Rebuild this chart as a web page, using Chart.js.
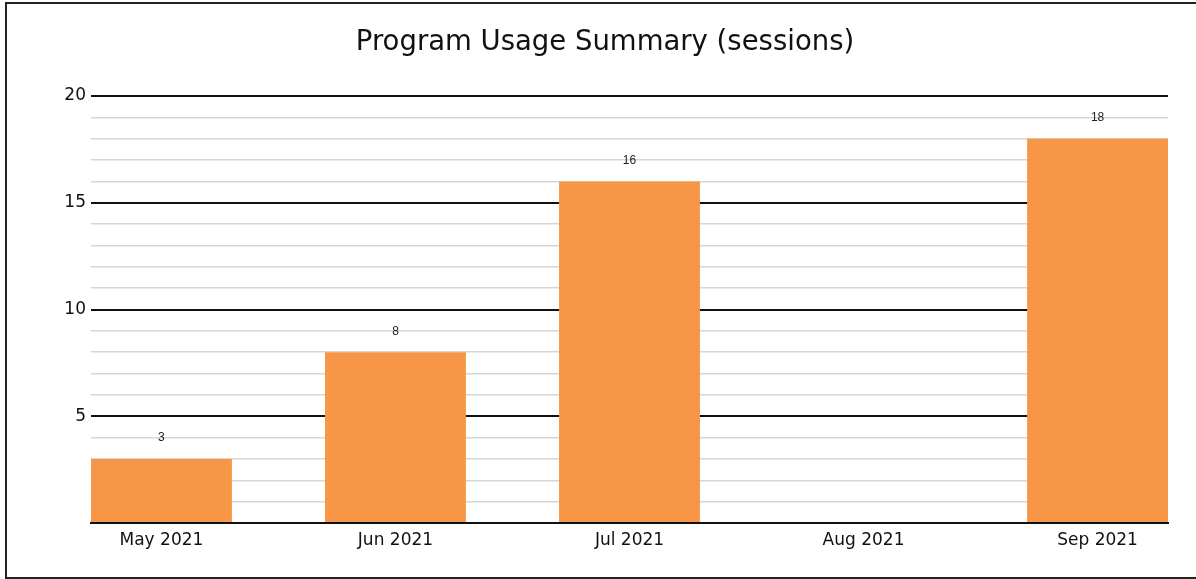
<!DOCTYPE html>
<html>
<head>
<meta charset="utf-8">
<script src="https://cdn.jsdelivr.net/npm/chart.js@4"></script>
<style>
  html, body { margin: 0; padding: 0; background: #fff; overflow: hidden; width: 1196px; height: 579px; }
  #frame { position: absolute; left: 5px; top: 2px; width: 1189px; height: 573px; border: 2px solid #222; border-right: none; }
  #wrap { position: absolute; left: 0; top: 0; width: 1196px; height: 579px; }
</style>
</head>
<body>
<div id="frame"></div>
<div id="wrap"><canvas id="c" width="1196" height="579"></canvas></div>
<script>
const categories = ["May 2021", "Jun 2021", "Jul 2021", "Aug 2021", "Sep 2021"];
const sessions = [3, 8, 16, 0, 18];
const yTickLabels = ["5", "10", "15", "20"];
const titleText = "Program Usage Summary (sessions)";

const FONT = "'DejaVu Sans', Verdana, sans-serif";
const halfBar = 0.301;

const valueLabels = {
  id: 'valueLabels',
  afterDatasetsDraw(chart) {
    const ctx = chart.ctx;
    const meta = chart.getDatasetMeta(0);
    ctx.save();
    ctx.font = "12px 'Liberation Sans', Arial, sans-serif";
    ctx.fillStyle = '#222';
    ctx.textAlign = 'center';
    ctx.textBaseline = 'middle';
    meta.data.forEach((el, i) => {
      const v = sessions[i];
      if (!v) return;
      ctx.fillText(String(v), el.x, el.y - 21);
    });
    ctx.restore();
  }
};

const titleDraw = {
  id: 'titleDraw',
  afterDraw(chart) {
    const ctx = chart.ctx;
    ctx.save();
    ctx.font = "27.5px " + FONT;
    ctx.fillStyle = '#111';
    ctx.textAlign = 'center';
    ctx.textBaseline = 'middle';
    ctx.fillText(titleText, 605, 43);
    ctx.restore();
  }
};

new Chart(document.getElementById('c'), {
  type: 'bar',
  data: {
    datasets: [{
      data: sessions.map((v, i) => ({ x: i, y: v })),
      backgroundColor: '#F79646',
      borderWidth: 0,
      categoryPercentage: 1,
      barPercentage: 0.602
    }]
  },
  options: {
    responsive: false,
    animation: false,
    layout: { padding: { left: 0, right: 28, top: 96, bottom: 0 } },
    plugins: {
      legend: { display: false },
      tooltip: { enabled: false },
      title: { display: false }
    },
    scales: {
      x: {
        type: 'linear',
        min: -halfBar,
        max: categories.length - 1 + halfBar,
        offset: false,
        grid: { display: false, drawTicks: false },
        border: { display: true, color: '#111', width: 2 },
        afterFit(scale) { scale.height = 56; },
        ticks: {
          stepSize: 1,
          includeBounds: false,
          autoSkip: false,
          maxRotation: 0,
          padding: 7,
          color: '#111',
          font: { family: FONT, size: 17 },
          callback(v) {
            return Number.isInteger(v) && categories[v] !== undefined ? categories[v] : '';
          }
        }
      },
      y: {
        min: 0,
        max: 20,
        grid: {
          drawTicks: false,
          color(ctx) { return ctx.tick && ctx.tick.value % 5 === 0 ? '#111' : '#d6d6d6'; },
          lineWidth(ctx) { return ctx.tick && ctx.tick.value % 5 === 0 ? 2 : 1.5; }
        },
        border: { display: false },
        afterFit(scale) { scale.width = 91; },
        ticks: {
          stepSize: 1,
          padding: 5,
          color: '#111',
          font: { family: FONT, size: 17 },
          autoSkip: false,
          callback(v) {
            const s = String(v);
            return yTickLabels.includes(s) ? s : '';
          }
        }
      }
    }
  },
  plugins: [valueLabels, titleDraw]
});
</script>
</body>
</html>
